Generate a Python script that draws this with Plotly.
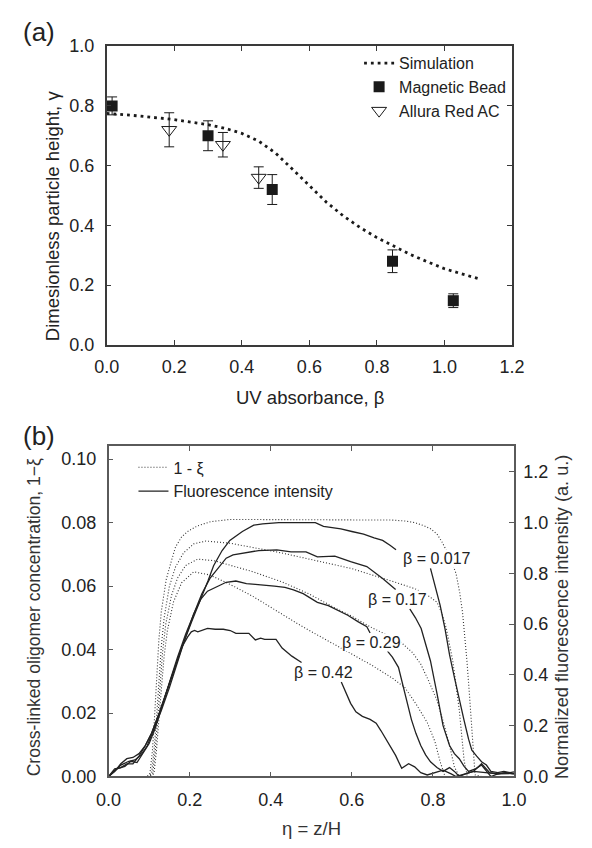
import plotly.graph_objects as go

# ---------------- Panel (a) data ----------------
sim_x = [0.0, 0.1, 0.2, 0.3, 0.35, 0.4, 0.45, 0.5, 0.55, 0.6, 0.65, 0.7, 0.75, 0.8,
         0.85, 0.9, 0.95, 1.0, 1.05, 1.1]
sim_y = [0.775, 0.766, 0.754, 0.737, 0.725, 0.708, 0.682, 0.642, 0.588, 0.533, 0.478,
         0.432, 0.393, 0.359, 0.330, 0.302, 0.278, 0.255, 0.238, 0.222]

mb_x = [0.016, 0.30, 0.49, 0.846, 1.026]
mb_y = [0.80, 0.70, 0.52, 0.28, 0.148]
mb_err = [0.03, 0.05, 0.05, 0.038, 0.023]

ar_x = [0.185, 0.344, 0.45]
ar_y = [0.72, 0.67, 0.56]
ar_err = [0.057, 0.041, 0.036]

# ---------------- Panel (b) data ----------------
# 1 - xi (left axis), dotted
d017_x = [0, 0.095, 0.102, 0.108, 0.113, 0.118, 0.124, 0.13, 0.142, 0.155, 0.165, 0.18,
          0.197, 0.22, 0.252, 0.3, 0.4, 0.5, 0.6, 0.7, 0.731, 0.755, 0.778, 0.795, 0.81,
          0.822, 0.833, 0.845, 0.857, 0.866, 0.873, 0.879, 0.884, 0.89, 0.896, 0.904,
          0.92, 1.0]
d017_y = [0, 0, 0.001, 0.008, 0.018, 0.03, 0.043, 0.052, 0.062, 0.068, 0.0723, 0.0755,
          0.0774, 0.079, 0.0803, 0.081, 0.081, 0.081, 0.081, 0.0808, 0.0805, 0.080, 0.079,
          0.078, 0.0764, 0.074, 0.0713, 0.068, 0.064, 0.058, 0.0518, 0.044, 0.0364, 0.026,
          0.016, 0.0005, 0, 0]

d017b_x = [0, 0.098, 0.106, 0.112, 0.118, 0.124, 0.13, 0.137, 0.15, 0.165, 0.185, 0.21,
           0.24, 0.3, 0.354, 0.425, 0.495, 0.6, 0.7, 0.755, 0.786, 0.81, 0.822, 0.833,
           0.849, 0.857, 0.865, 0.871, 0.877, 0.885, 1.0]
d017b_y = [0, 0, 0.001, 0.008, 0.018, 0.030, 0.041, 0.050, 0.060, 0.066, 0.0705, 0.0733,
           0.0742, 0.0735, 0.0722, 0.0705, 0.0685, 0.0655, 0.0615, 0.0592, 0.0572, 0.0549,
           0.0515, 0.0467, 0.0364, 0.029, 0.021, 0.013, 0.005, 0, 0]

d029_x = [0, 0.101, 0.109, 0.115, 0.121, 0.127, 0.133, 0.141, 0.155, 0.17, 0.19, 0.22,
          0.26, 0.354, 0.43, 0.495, 0.56, 0.6, 0.652, 0.7, 0.723, 0.75, 0.77, 0.79, 0.81,
          0.825, 0.841, 0.853, 0.865, 1.0]
d029_y = [0, 0, 0.001, 0.008, 0.018, 0.029, 0.039, 0.048, 0.057, 0.0625, 0.0665, 0.0685,
          0.068, 0.0646, 0.0612, 0.0575, 0.053, 0.0505, 0.0467, 0.0438, 0.0421, 0.039,
          0.0354, 0.030, 0.024, 0.0175, 0.0098, 0.003, 0, 0]

d042_x = [0, 0.104, 0.112, 0.118, 0.124, 0.13, 0.137, 0.145, 0.16, 0.18, 0.21, 0.25, 0.3,
          0.354, 0.41, 0.472, 0.515, 0.566, 0.59, 0.65, 0.7, 0.731, 0.76, 0.786, 0.805,
          0.818, 0.83, 1.0]
d042_y = [0, 0, 0.001, 0.008, 0.018, 0.028, 0.038, 0.046, 0.055, 0.061, 0.0645, 0.0635,
          0.0605, 0.0569, 0.0525, 0.0477, 0.0446, 0.041, 0.0395, 0.035, 0.031, 0.028,
          0.0225, 0.017, 0.011, 0.0046, 0, 0]

# Fluorescence intensity (right axis), solid; None = gap for label
f017_x = [0, 0.02, 0.03, 0.045, 0.06, 0.075, 0.09, 0.106, 0.125, 0.142, 0.16, 0.181,
          0.205, 0.228, 0.245, 0.259, 0.28, 0.299, 0.33, 0.358, 0.38, 0.42, 0.46, 0.50,
          0.51, 0.53, 0.573, 0.60, 0.629, 0.655, 0.676, 0.695, 0.709, None,
          0.794, 0.806, 0.818, 0.83, 0.841, 0.853, 0.865, 0.877, 0.888, 0.896, 0.908,
          0.92, 0.932, 0.943, 0.96, 0.975, 0.99, 1.0]
f017_y = [0, 0.03, 0.05, 0.07, 0.075, 0.09, 0.12, 0.17, 0.25, 0.33, 0.42, 0.51, 0.61,
          0.70, 0.77, 0.83, 0.89, 0.93, 0.965, 0.99, 0.995, 1.0, 1.0, 1.0, 1.0, 0.985,
          0.975, 0.965, 0.955, 0.94, 0.93, 0.91, 0.893, None,
          0.82, 0.75, 0.673, 0.58, 0.48, 0.39, 0.30, 0.22, 0.147, 0.104, 0.08, 0.058,
          0.045, 0.02, 0.015, 0.02, 0.015, 0.018]

f017b_x = [0, 0.015, 0.03, 0.05, 0.065, 0.08, 0.095, 0.11, 0.13, 0.15, 0.17, 0.19, 0.21,
           0.23, 0.25, 0.275, 0.29, 0.307, 0.33, 0.37, 0.415, 0.45, 0.487, 0.515, 0.558,
           0.597, 0.637, 0.676, 0.708, None,
           0.743, 0.757, 0.771, 0.783, 0.794, 0.81, 0.825, 0.841, 0.853, 0.865, 0.877,
           0.888, 0.905, 0.92, 0.932, 0.943, 0.96, 0.98, 1.0]
f017b_y = [0, 0.02, 0.045, 0.06, 0.065, 0.085, 0.12, 0.18, 0.26, 0.35, 0.45, 0.55, 0.64,
           0.72, 0.78, 0.83, 0.86, 0.873, 0.88, 0.89, 0.893, 0.885, 0.885, 0.865, 0.868,
           0.846, 0.827, 0.78, 0.737, None,
           0.66, 0.625, 0.583, 0.52, 0.455, 0.327, 0.20, 0.122, 0.09, 0.07, 0.04, 0.02,
           0.03, 0.045, 0.02, 0.0, 0.01, 0.015, 0.01]

f029_x = [0, 0.02, 0.04, 0.055, 0.07, 0.085, 0.1, 0.115, 0.13, 0.15, 0.17, 0.19, 0.21,
          0.228, 0.244, 0.27, 0.29, 0.314, 0.34, 0.362, 0.385, 0.409, 0.435, 0.456, 0.48,
          0.515, 0.542, 0.565, 0.59, 0.615, 0.637, 0.645, None,
          0.688, 0.70, 0.715, 0.723, 0.731, 0.74, 0.747, 0.758, 0.77, 0.782, 0.794, 0.81,
          0.825, 0.841, 0.853, 0.865, 0.88, 0.9, 0.92, 0.94, 0.96, 0.98, 1.0]
f029_y = [0, 0.03, 0.04, 0.06, 0.055, 0.09, 0.13, 0.19, 0.27, 0.37, 0.47, 0.56, 0.64,
          0.70, 0.73, 0.75, 0.765, 0.77, 0.76, 0.757, 0.755, 0.75, 0.745, 0.735, 0.72,
          0.686, 0.673, 0.655, 0.635, 0.61, 0.59, 0.565, None,
          0.494, 0.47, 0.43, 0.38, 0.327, 0.27, 0.224, 0.17, 0.122, 0.085, 0.058, 0.035,
          0.02, 0.035, 0.02, 0.0, 0.01, 0.02, 0.05, 0.015, 0.01, 0.015, 0.01]

f042_x = [0, 0.015, 0.03, 0.045, 0.06, 0.075, 0.09, 0.106, 0.125, 0.142, 0.16, 0.181,
          0.195, 0.204, 0.212, 0.22, 0.244, 0.263, 0.283, 0.3, 0.314, 0.33, 0.346, 0.362,
          0.375, 0.385, 0.4, 0.413, 0.428, 0.452, 0.476, None,
          0.574, 0.585, 0.597, 0.61, 0.626, 0.645, 0.66, 0.672, 0.684, 0.696, 0.708,
          0.723, 0.74, 0.755, 0.77, 0.786, 0.805, 0.825, 0.845, 0.857, 0.88, 0.9, 0.93,
          0.96, 1.0]
f042_y = [0, 0.03, 0.035, 0.05, 0.05, 0.08, 0.12, 0.17, 0.25, 0.33, 0.42, 0.51, 0.55,
          0.57, 0.575, 0.57, 0.583, 0.58, 0.58, 0.575, 0.564, 0.565, 0.564, 0.538, 0.545,
          0.54, 0.54, 0.54, 0.506, 0.474, 0.449, None,
          0.372, 0.33, 0.288, 0.255, 0.237, 0.225, 0.21, 0.18, 0.147, 0.115, 0.083,
          0.032, 0.05, 0.038, 0.015, 0.006, 0.015, 0.025, 0.01, 0.0, 0.01, 0.02, 0.015,
          0.01, 0.012]

beta_labels = ["β = 0.017", "β = 0.17", "β = 0.29", "β = 0.42"]
beta_lab_x = [0.809, 0.712, 0.649, 0.531]
beta_lab_y = [0.858, 0.696, 0.527, 0.41]

FONT = "Liberation Sans, Arial, sans-serif"
INK = "#1a1a1a"
AX_A = "#3a3a3a"
AX_B = "#5a5a5a"

fig = go.Figure()

# Panel (a)
fig.add_trace(go.Scatter(x=sim_x, y=sim_y, mode="lines", name="Simulation",
                         line=dict(color=INK, width=2.8, dash="2.8px,4px"),
                         xaxis="x", yaxis="y", legend="legend"))
fig.add_trace(go.Scatter(x=mb_x, y=mb_y, mode="markers", name="Magnetic Bead",
                         marker=dict(symbol="square", size=11, color=INK),
                         error_y=dict(type="data", array=mb_err, color=INK, thickness=1, width=5),
                         xaxis="x", yaxis="y", legend="legend"))
fig.add_trace(go.Scatter(x=ar_x, y=ar_y, mode="markers", name="Allura Red AC",
                         marker=dict(symbol="triangle-down-open", size=13, color=INK,
                                     line=dict(width=1, color=INK)),
                         error_y=dict(type="data", array=ar_err, color=INK, thickness=1, width=5),
                         xaxis="x", yaxis="y", legend="legend"))

# Panel (b) dotted
for i, (dx, dy) in enumerate([(d017_x, d017_y), (d017b_x, d017b_y),
                              (d029_x, d029_y), (d042_x, d042_y)]):
    fig.add_trace(go.Scatter(x=dx, y=dy, mode="lines", name="1 - ξ",
                             line=dict(color="#333333", width=1.1, dash="1px,2px"),
                             showlegend=(i == 0), xaxis="x2", yaxis="y2",
                             legend="legend2"))
# Panel (b) solid
for i, (fx, fy) in enumerate([(f017_x, f017_y), (f017b_x, f017b_y),
                              (f029_x, f029_y), (f042_x, f042_y)]):
    fig.add_trace(go.Scatter(x=fx, y=fy, mode="lines", name="Fluorescence intensity",
                             line=dict(color="#222222", width=1.3),
                             showlegend=(i == 0), xaxis="x2", yaxis="y3",
                             legend="legend2", connectgaps=False))

tickfont = dict(family=FONT, size=18, color="#222")

common = dict(showgrid=False, zeroline=False, showline=True, ticks="inside",
              ticklen=5, tickwidth=1, tickfont=tickfont)

annotations = []
def add_text(txt, xp, yp, size, angle=0, color="#222", bg=None):
    d = dict(text=txt, x=xp / 592, y=1 - yp / 848, xref="paper", yref="paper",
             showarrow=False, font=dict(family=FONT, size=size, color=color),
             textangle=angle, xanchor="center", yanchor="middle")
    if bg:
        d["bgcolor"] = bg
    annotations.append(d)

add_text("(a)", 27, 23, 26)
add_text("(b)", 27, 436, 26)
add_text("UV absorbance, β", 311, 397, 18.5)
add_text("Dimesionless particle height, γ", 41, 211, 18.5, angle=-90)
add_text("η = z/H", 312, 838, 18.5, color="#333")
add_text("Cross-linked oligomer concentration, 1−ξ", 22, 622, 17.6, angle=-90, color="#333")
add_text("Normalized fluorescence intensity (a. u.)", 575, 622, 18.2, angle=-90, color="#333")

for t, bx, by in zip(beta_labels, beta_lab_x, beta_lab_y):
    annotations.append(dict(text=t, x=bx, y=by, xref="x2", yref="y3", showarrow=False,
                            font=dict(family=FONT, size=16, color="#222"),
                            bgcolor="white", borderpad=0))

fig.update_layout(
    width=592, height=848, margin=dict(l=0, r=0, t=0, b=0),
    paper_bgcolor="white", plot_bgcolor="white",
    font=dict(family=FONT, color="#222"),
    xaxis=dict(domain=[98 / 592, 522 / 592], range=[0, 1.2], dtick=0.2, tickformat=".1f",
               anchor="y", mirror="ticks", linecolor=AX_A, linewidth=1.5, tickcolor=AX_A,
               ticklabelstandoff=5, **common),
    yaxis=dict(domain=[(848 - 343) / 848, (848 - 37) / 848], range=[0, 1.0], dtick=0.2,
               tickformat=".1f", anchor="x", mirror="ticks", linecolor=AX_A, linewidth=1.5,
               tickcolor=AX_A, ticklabelstandoff=7, **common),
    xaxis2=dict(domain=[100 / 592, 524 / 592], range=[0, 1.0], dtick=0.2, tickformat=".1f",
                anchor="y2", mirror="ticks", linecolor=AX_B, linewidth=1.8, tickcolor=AX_B,
                ticklabelstandoff=6, **common),
    yaxis2=dict(domain=[(848 - 785) / 848, (848 - 447) / 848], range=[0, 0.104], dtick=0.02,
                tickformat=".2f", anchor="x2", side="left", linecolor=AX_B, linewidth=1.5,
                tickcolor=AX_B, ticklabelstandoff=7, **common),
    yaxis3=dict(range=[0, 1.3], dtick=0.2, tickformat=".1f", anchor="x2", overlaying="y2",
                side="right", linecolor=AX_B, linewidth=1.5, tickcolor=AX_B,
                ticklabelstandoff=4, **common),
    legend=dict(x=362 / 592, y=1 - 37 / 848, xanchor="left", yanchor="top",
                bgcolor="rgba(0,0,0,0)", font=dict(family=FONT, size=16, color="#222"),
                tracegroupgap=0),
    legend2=dict(x=126 / 592, y=1 - 451 / 848, xanchor="left", yanchor="top",
                 bgcolor="rgba(0,0,0,0)", font=dict(family=FONT, size=16, color="#222"),
                 tracegroupgap=0),
    annotations=annotations,
)

fig.write_html("out.html")
